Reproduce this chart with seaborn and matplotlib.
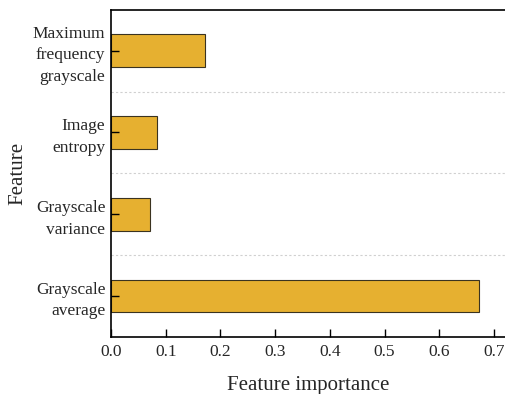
import matplotlib
matplotlib.use("Agg")
import matplotlib.pyplot as plt
import seaborn as sns
import pandas as pd

# feature importance values
features = ["Maximum\nfrequency\ngrayscale", "Image\nentropy",
            "Grayscale\nvariance", "Grayscale\naverage"]
importance = [0.172, 0.084, 0.071, 0.673]
x_ticks = [0.0, 0.1, 0.2, 0.3, 0.4, 0.5, 0.6, 0.7]

df = pd.DataFrame({"Feature": features, "Feature importance": importance})

sns.set_style("ticks")
plt.rcParams['font.family'] = ['Liberation Serif', 'DejaVu Serif']
plt.rcParams['xtick.direction'] = 'in'
plt.rcParams['ytick.direction'] = 'in'

fig = plt.figure(figsize=(5.06, 3.94), dpi=100)
ax = fig.add_axes([111 / 506, 0.145, 395 / 506, 0.83])

sns.barplot(data=df, x="Feature importance", y="Feature", orient="h",
            color="#E6B030", saturation=1, width=0.4,
            edgecolor="#3a3320", linewidth=0.8, ax=ax)

ax.set_xlim(0, 0.722)
ax.set_ylim(3.5, -0.5)
ax.set_xticks(x_ticks)
ax.set_xticklabels([f"{t:.1f}" for t in x_ticks])

# dotted separators between categories
for y in [0.5, 1.5, 2.5]:
    ax.axhline(y, color="#d0d0d0", linestyle=(0, (2, 2)), linewidth=0.8, zorder=0)

ax.set_axisbelow(False)
ax.tick_params(axis="both", direction="in", labelsize=12.5, length=6, width=1.0,
               color="black", bottom=True, left=True, top=False, right=False)
ax.tick_params(axis="x", pad=5)
ax.tick_params(axis="y", pad=4)
for lbl in ax.get_yticklabels():
    lbl.set_linespacing(1.45)
ax.set_xlabel("Feature importance", fontsize=15, labelpad=12)
ax.set_ylabel("Feature", fontsize=15, labelpad=4)

for s in ["left", "bottom", "top"]:
    ax.spines[s].set_visible(True)
    ax.spines[s].set_color("black")
    ax.spines[s].set_linewidth(1.2)
ax.spines["right"].set_visible(False)

fig.savefig("out.png", dpi=100)
